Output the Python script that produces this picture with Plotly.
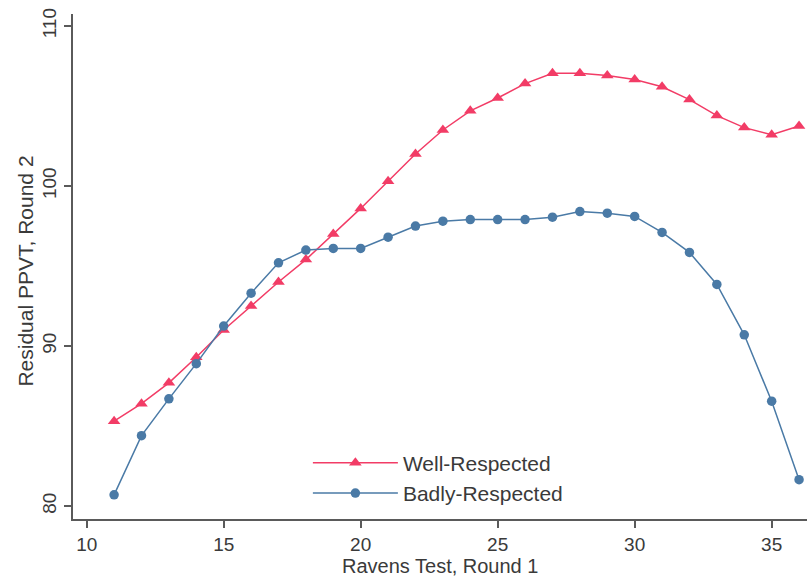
import plotly.graph_objects as go

ravens = list(range(11, 37))
well = [85.3, 86.4, 87.7, 89.3, 91.0, 92.5, 94.0, 95.4, 97.0, 98.6, 100.3, 102.0,
        103.5, 104.7, 105.5, 106.4, 107.05, 107.05, 106.9, 106.65, 106.2, 105.4,
        104.4, 103.65, 103.2, 103.75]
badly = [80.7, 84.4, 86.7, 88.9, 91.25, 93.3, 95.2, 96.0, 96.1, 96.1, 96.8, 97.5,
         97.8, 97.9, 97.9, 97.9, 98.05, 98.4, 98.3, 98.1, 97.1, 95.85, 93.85, 90.7,
         86.55, 81.65]
x_ticks = [10, 15, 20, 25, 30, 35]
y_ticks = [80, 90, 100, 110]

RED = "#F23C66"
BLUE = "#4A7AA6"
FONT = "Liberation Sans, Arial, sans-serif"
TXT = "#3a3a3a"

fig = go.Figure()
fig.add_trace(go.Scatter(x=ravens, y=well, mode="lines+markers", name="Well-Respected",
                         line=dict(color=RED, width=1.5),
                         marker=dict(symbol="triangle-up", size=11, color=RED)))
fig.add_trace(go.Scatter(x=ravens, y=badly, mode="lines+markers", name="Badly-Respected",
                         line=dict(color=BLUE, width=1.5),
                         marker=dict(symbol="circle", size=9.5, color=BLUE)))

fig.update_layout(
    width=807, height=577,
    margin=dict(l=73, r=0, t=14, b=58),
    paper_bgcolor="white", plot_bgcolor="white",
    font=dict(family=FONT, size=19, color=TXT),
    showlegend=True,
    legend=dict(x=0.320, y=0.081, xanchor="left", yanchor="middle",
                bgcolor="rgba(0,0,0,0)", font=dict(size=21, color=TXT),
                itemwidth=85, tracegroupgap=0),
    xaxis=dict(range=[9.5, 36.29], tickvals=x_ticks, showgrid=False, zeroline=False,
               showline=True, linecolor="#5a5a5a", linewidth=2,
               ticks="outside", ticklen=7, tickwidth=2, tickcolor="#5a5a5a",
               tickfont=dict(size=19, color=TXT)),
    yaxis=dict(range=[79.19, 110.75], tickvals=y_ticks, showgrid=False, zeroline=False,
               showline=True, linecolor="#5a5a5a", linewidth=2,
               ticks="outside", ticklen=7, tickwidth=2, tickcolor="#5a5a5a",
               tickangle=-90, tickfont=dict(size=19, color=TXT)),
    annotations=[
        dict(text="Ravens Test, Round 1", xref="paper", yref="paper", x=0.5, y=-0.094,
             xanchor="center", yanchor="middle", showarrow=False,
             font=dict(size=20, color=TXT)),
        dict(text="Residual PPVT, Round 2", xref="paper", yref="paper", x=-0.064, y=0.49,
             xanchor="center", yanchor="middle", showarrow=False, textangle=-90,
             font=dict(size=21, color=TXT)),
    ],
)

fig.write_html("out.html")
